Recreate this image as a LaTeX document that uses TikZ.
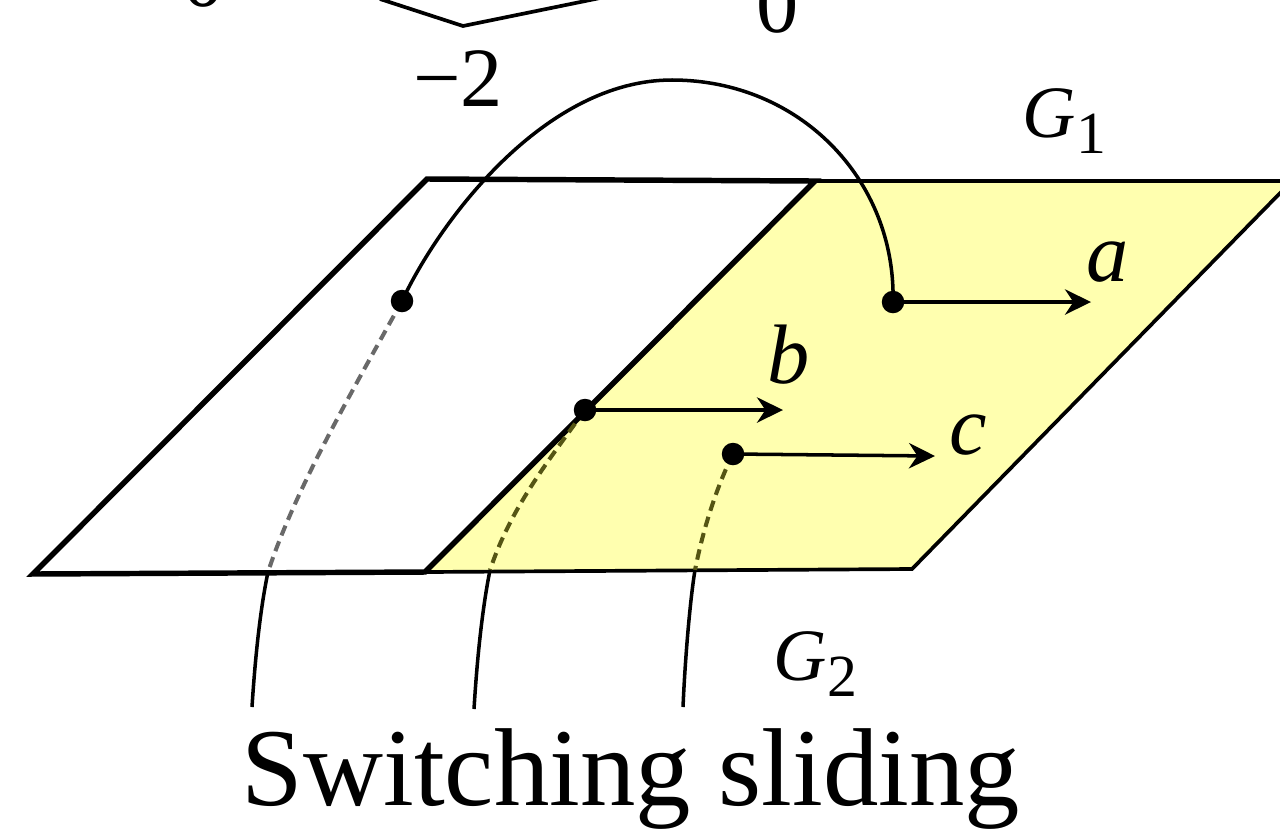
\documentclass[tikz,border=0pt]{standalone}
\usepackage{fontspec}
\setmainfont{Liberation Serif}
\usetikzlibrary{arrows.meta}
\definecolor{padyellow}{RGB}{255,255,175}
\definecolor{dashgrey}{RGB}{105,105,105}
\definecolor{dasholive}{RGB}{85,85,20}
\pgfdeclarelayer{planes}
\pgfdeclarelayer{lines}
\pgfsetlayers{planes,lines,main}
\tikzset{
  thickedge/.style={line width=1.55pt,line join=miter},
  thinedge/.style={line width=1.05pt},
  curve/.style={line width=1.0pt},
  dashcurve/.style={line width=1.15pt,dash pattern=on 3pt off 1.8pt},
  flow/.style={line width=1.0pt,-{Stealth[length=7.4pt,width=7.2pt,inset=2.4pt]}},
  pointdot/.style={circle,fill=black,inner sep=0pt,minimum size=0.225cm},
  lbl/.style={inner sep=0pt,font=\fontsize{24}{28}\selectfont\itshape},
  biglbl/.style={inner sep=0pt,font=\fontsize{21}{28}\selectfont\itshape},
  numlbl/.style={inner sep=0pt,font=\fontsize{24}{28}\selectfont},
  title/.style={inner sep=0pt,font=\fontsize{31.5}{36}\selectfont}
}
\newcommand{\subsc}[1]{\raisebox{-4.6pt}{\fontsize{17}{20}\selectfont\upshape #1}}
\begin{document}
\begin{tikzpicture}[x=0.01cm,y=-0.01cm]
\useasboundingbox (0,0) rectangle (1280,830);
\begin{pgfonlayer}{planes}
\begin{scope}
\clip (0,0) rectangle (1280,830);
% yellow plane
\fill[padyellow] (815,181) -- (1285,181) -- (1285,188) -- (912,569) -- (425,572) -- cycle;
\draw[thinedge] (815,181) -- (1285,181);
\draw[thinedge] (1285,188) -- (912,569) -- (425,572);
% white plane
\draw[thickedge] (427,179) -- (815,181) -- (425,572) -- (33,574) -- cycle;
% top fragment
\draw[thinedge] (380,-1) -- (463,26) -- (600,-2);
\node[numlbl] (zeroL) at (204,-21) {0};
\node[numlbl] (zeroR) at (778,5) {0};
\end{scope}
\end{pgfonlayer}
\node[numlbl] (minustwo) at (458,79) {−2};
% dots
\node[pointdot] (a) at (893,302) {};
\node[pointdot] (b) at (585,410) {};
\node[pointdot] (c) at (733,454) {};
\node[pointdot] (d) at (402,301) {};
% free ends
\coordinate (ae) at (1091,302);
\coordinate (be) at (783,410);
\coordinate (ce) at (935,456);
\coordinate (g) at (268,572);
\coordinate (gb) at (252,707);
\coordinate (h) at (490,570);
\coordinate (hb) at (474,709);
\coordinate (k) at (695,570);
\coordinate (kb) at (683,707);
\begin{pgfonlayer}{lines}
% arc
\draw[curve] (d.center) .. controls (440,220) and (545,80) .. (672,80)
  .. controls (800,80) and (896,180) .. (a.center);
% dashed
\draw[dashcurve,dashgrey] (d.center) .. controls (350,395) and (295,490) .. (g);
\draw[dashcurve,dasholive] (b.center) .. controls (545,465) and (510,510) .. (h);
\draw[dashcurve,dasholive] (c.center) .. controls (720,480) and (705,520) .. (k);
% solid
\draw[curve] (g) .. controls (260,610) and (255,660) .. (gb);
\draw[curve] (h) .. controls (482,610) and (477,660) .. (hb);
\draw[curve] (k) .. controls (690,600) and (685,660) .. (kb);
% arrows
\draw[flow] (a.center) -- (ae);
\draw[flow] (b.center) -- (be);
\draw[flow] (c.center) -- (ce);
\end{pgfonlayer}
% labels
\node[lbl] (la) at (1108,262) {a};
\node[lbl] (lb) at (789,355) {b};
\node[lbl] (lc) at (968,435) {c};
\node[biglbl,anchor=base west] (g1) at (1022,137) {G\subsc{1}};
\node[biglbl,anchor=base west] (g2) at (773,680) {G\subsc{2}};
\node[title,anchor=base] (t) at (631,805) {Switching sliding};
\end{tikzpicture}
\end{document}
